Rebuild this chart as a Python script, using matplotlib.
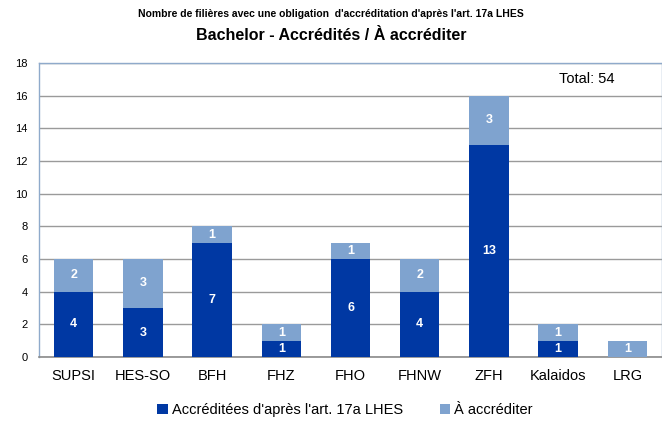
import numpy as np
import matplotlib
matplotlib.use('Agg')
import matplotlib.pyplot as plt

# Data
categories = ['SUPSI', 'HES-SO', 'BFH', 'FHZ', 'FHO', 'FHNW', 'ZFH', 'Kalaidos', 'LRG']
accredited = [4, 3, 7, 1, 6, 4, 13, 1, 0]
to_accredit = [2, 3, 1, 1, 1, 2, 3, 1, 1]
series_labels = ["Accréditées d'après l'art. 17a LHES", "À accréditer"]

DARK = '#0038A3'
LIGHT = '#7FA3CF'

plt.rcParams['font.family'] = ['Liberation Sans', 'DejaVu Sans']

fig = plt.figure(figsize=(6.62, 4.25), dpi=100)
ax = fig.add_axes([39 / 662, 1 - 357 / 425, 623 / 662, 294 / 425])

x = np.arange(len(categories))
w = 0.57
b1 = ax.bar(x, accredited, w, color=DARK, label=series_labels[0], zorder=3)
b2 = ax.bar(x, to_accredit, w, bottom=accredited, color=LIGHT, label=series_labels[1], zorder=3)

# value labels inside segments
for i in range(len(categories)):
    if accredited[i] > 0:
        ax.text(x[i], accredited[i] / 2, str(accredited[i]), ha='center', va='center',
                color='white', fontsize=9, fontweight='bold', zorder=4)
    if to_accredit[i] > 0:
        ax.text(x[i], accredited[i] + to_accredit[i] / 2, str(to_accredit[i]), ha='center',
                va='center', color='white', fontsize=9, fontweight='bold', zorder=4)

ax.set_xlim(-0.5, len(categories) - 0.5)
ax.set_ylim(0, 18)
ax.set_yticks(range(0, 19, 2))
ax.set_xticks(x)
ax.set_xticklabels(categories, fontsize=10.5)
ax.tick_params(axis='y', labelsize=8, length=0, pad=8)
ax.tick_params(axis='x', length=0, pad=9)
ax.yaxis.grid(True, color='#9a9a9a', linewidth=1, zorder=0)

for s in ['left', 'top', 'right']:
    ax.spines[s].set_color('#8FAACB')
    ax.spines[s].set_linewidth(1)
ax.spines['bottom'].set_color('#8a8a8a')
ax.spines['bottom'].set_linewidth(1.2)

ax.text(7.42, 17.05, 'Total: 54', ha='center', va='center', fontsize=10.5)

fig.text(0.5, 1 - 14 / 425, "Nombre de filières avec une obligation  d'accréditation d'après l'art. 17a LHES",
         ha='center', va='center', fontsize=7.5, fontweight='bold')
fig.text(0.5, 1 - 35 / 425, 'Bachelor - Accrédités / À accréditer',
         ha='center', va='center', fontsize=11.5, fontweight='bold')

fig.legend(handles=[b1, b2], loc='center', bbox_to_anchor=(345 / 662, 1 - 410 / 425),
           ncol=2, frameon=False, fontsize=10.5, handlelength=0.7, handleheight=0.7,
           handletextpad=0.3, columnspacing=2.5)

fig.savefig('out.png', dpi=100)
